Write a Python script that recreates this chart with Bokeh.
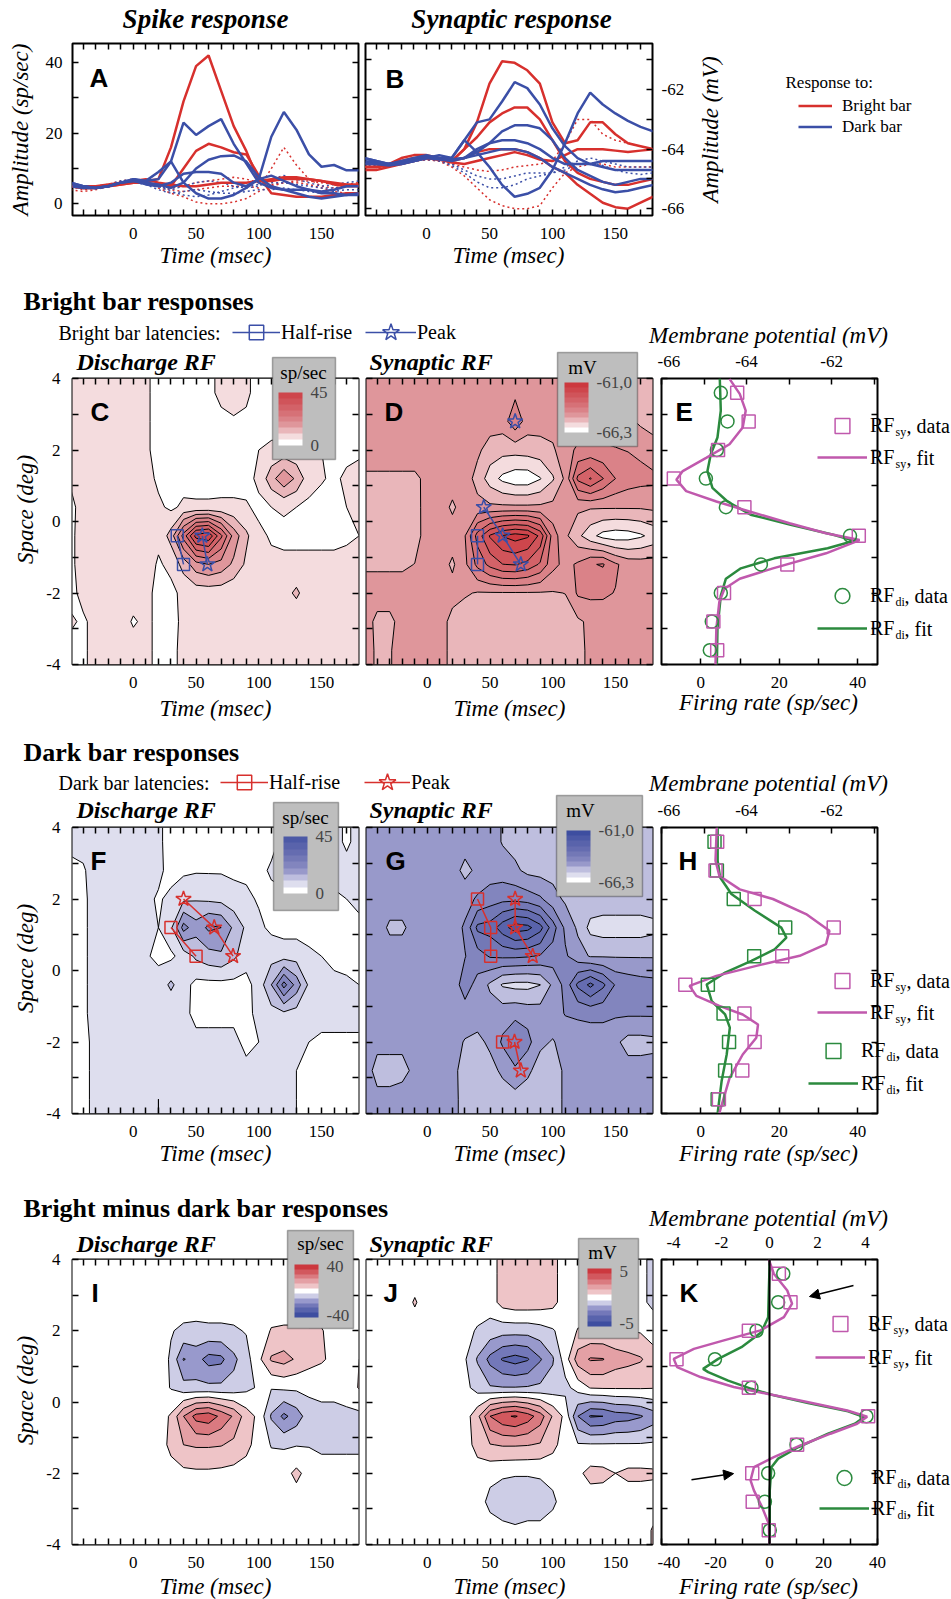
import numpy as np
from bokeh.plotting import figure
from bokeh.layouts import row, column
from bokeh.models import (Range1d, LinearAxis, FixedTicker, Label, Legend, LegendItem,
                          ColorBar, LinearColorMapper, Arrow, NormalHead, Span, Grid,
                          GridBox, BoxAnnotation)
from bokeh.embed import file_html
from bokeh.resources import INLINE

SERIF = "Liberation Serif"
SANS = "Liberation Sans"
RED = "#d7302d"
BLUE = "#3b4fa7"
MAGENTA = "#c059ad"
GREEN = "#2b8a3e"

# ------------------------------------------------------------------ data
TIME = [-50, -40, -30, -20, -10, 0, 10, 20, 30, 40, 50, 60, 70, 80, 90, 100, 110, 120, 130, 140, 150, 160, 170, 180]
SPACE = [3.6, 2.8, 2.0, 1.2, 0.4, -0.4, -1.2, -2.0, -2.8, -3.6]

# A: spike responses (sp/sec)
A_RED_SOLID_1 = [5, 4.5, 4.5, 5, 5.5, 6, 6.5, 7, 16, 29, 39, 42, 32, 22, 15, 6.5, 6.5, 7, 7, 7, 6.5, 6, 5.5, 5.5]
A_RED_SOLID_2 = [5, 4.5, 4.5, 5, 5.5, 6, 6, 5.5, 5, 10, 15, 17, 16, 14.6, 14, 8, 3, 2.5, 2, 2, 2, 2.5, 3, 3]
A_RED_SOLID_3 = [5, 5, 5, 5.5, 6, 6.5, 7, 6, 5.5, 5, 5, 5.5, 6, 6, 6, 6.5, 7, 7.5, 7.5, 7, 6.5, 5.5, 5, 5]
A_BLUE_SOLID_1 = [6, 5, 4.5, 5, 6, 7, 6.5, 7, 12, 23, 19.5, 22, 24, 17, 11.5, 6, 4.5, 4, 4, 4, 3.5, 4, 5, 5]
A_BLUE_SOLID_2 = [6, 5, 4.5, 5, 6, 6.5, 5.5, 5, 6, 8.5, 9, 9, 8.5, 6, 5, 7, 19, 26, 21, 14, 10.5, 11, 9.5, 9.5]
A_BLUE_SOLID_3 = [5, 4.5, 4.5, 5, 6, 6.5, 6, 5.5, 4.5, 6, 10, 12.5, 13.5, 13.7, 12, 7.5, 5, 4, 3, 2, 1.5, 2, 2.5, 3]
A_BLUE_SOLID_4 = [5.5, 5, 4.5, 5, 6, 7, 6.5, 9, 12, 6, 3, 1.5, 1.5, 2.5, 4.5, 7, 8, 6.5, 5, 4, 3, 3, 2.5, 2.5]
A_RED_DOT_1 = [5, 4, 4.5, 5.5, 6.5, 7, 6, 5, 4, 3.5, 4, 4.5, 5, 5, 5, 4.5, 10, 16, 11, 7, 5, 4.5, 5, 5.5]
A_RED_DOT_2 = [4, 3.5, 4, 5, 6, 6.5, 6, 4.5, 3, 2, 0.5, 0, 0, 0.5, 1.5, 3.5, 5, 6, 6, 5.5, 4.5, 3.5, 3, 3]
A_RED_DOT_3 = [5.5, 5, 4.5, 5, 6, 7, 6.5, 5.5, 4.5, 5, 6, 6.5, 7, 7.5, 7, 6, 5.5, 6, 6.5, 6.5, 6, 5.5, 5.5, 6]
A_BLUE_DOT_1 = [6, 5, 5, 5.5, 6.5, 7, 6.5, 5, 4, 5, 6, 6.5, 6, 5, 4.5, 5, 7, 8, 7, 6, 5, 5.5, 6, 6.5]
A_BLUE_DOT_2 = [5, 4.5, 4.5, 5, 5.5, 6, 5.5, 4, 3, 3.5, 4, 3.5, 3, 3, 3.5, 4, 4, 4.5, 4, 3.5, 3, 3.5, 4, 4]
A_BLUE_DOT_3 = [5.5, 5, 5, 5, 6, 6.5, 6, 5, 3.5, 2.5, 2, 2.5, 3.5, 4.5, 5, 5.5, 6, 6, 5.5, 5, 4.5, 4.5, 5, 5.5]

# B: synaptic responses (mV)
B_RED_SOLID_1 = [-64.6, -64.6, -64.5, -64.3, -64.2, -64.2, -64.3, -64.4, -64.0, -63.1, -61.8, -61.05, -61.1, -61.35, -61.8, -63.1, -63.8, -63.7, -63.1, -63.1, -63.5, -63.8, -63.9, -64.0]
B_RED_SOLID_2 = [-64.6, -64.6, -64.5, -64.4, -64.3, -64.3, -64.35, -64.4, -64.0, -63.6, -63.1, -62.8, -62.6, -62.6, -63.0, -63.7, -64.4, -64.8, -65.0, -65.1, -65.2, -65.2, -65.1, -65.0]
B_RED_SOLID_3 = [-64.7, -64.7, -64.6, -64.5, -64.4, -64.3, -64.35, -64.4, -64.3, -64.1, -64.0, -64.0, -64.0, -64.1, -64.3, -64.6, -64.8, -65.2, -65.5, -65.8, -65.95, -66.0, -65.8, -65.6]
B_RED_SOLID_4 = [-64.6, -64.6, -64.55, -64.45, -64.35, -64.3, -64.35, -64.45, -64.5, -64.4, -64.3, -64.2, -64.1, -64.2, -64.35, -64.4, -64.2, -64.0, -64.0, -64.0, -64.05, -64.1, -64.05, -64.0]
B_BLUE_SOLID_1 = [-64.3, -64.4, -64.5, -64.5, -64.4, -64.3, -64.2, -64.3, -63.7, -63.1, -63.0, -62.4, -61.75, -61.95, -62.5, -63.3, -63.9, -64.3, -64.5, -64.6, -64.7, -64.7, -64.7, -64.7]
B_BLUE_SOLID_2 = [-64.3, -64.4, -64.5, -64.4, -64.3, -64.2, -64.3, -64.3, -63.7, -64.1, -64.6, -65.2, -65.6, -65.5, -65.3, -64.7, -63.8, -62.8, -62.1, -62.5, -62.8, -63.05, -63.25, -63.4]
B_BLUE_SOLID_3 = [-64.4, -64.45, -64.5, -64.45, -64.4, -64.3, -64.3, -64.35, -64.3, -64.1, -63.8, -63.4, -63.2, -63.2, -63.3, -63.7, -64.3, -64.7, -64.9, -65.1, -65.2, -65.1, -65.0, -65.0]
B_BLUE_SOLID_4 = [-64.45, -64.5, -64.5, -64.45, -64.35, -64.25, -64.3, -64.35, -64.3, -64.0, -63.8, -63.7, -63.7, -63.8, -64.0, -64.3, -64.5, -64.5, -64.5, -64.4, -64.4, -64.4, -64.4, -64.4]
B_BLUE_SOLID_5 = [-64.5, -64.5, -64.55, -64.5, -64.4, -64.3, -64.35, -64.4, -64.3, -64.2, -64.1, -64.0, -64.0, -64.1, -64.3, -64.6, -64.8, -65.0, -65.2, -65.35, -65.45, -65.4, -65.3, -65.2]
B_RED_DOT_1 = [-64.5, -64.55, -64.6, -64.5, -64.4, -64.35, -64.4, -64.6, -64.9, -65.3, -65.7, -65.9, -66.0, -66.0, -65.9, -65.3, -64.8, -64.6, -64.5, -64.5, -64.6, -64.6, -64.6, -64.6]
B_RED_DOT_2 = [-64.6, -64.6, -64.55, -64.45, -64.4, -64.35, -64.4, -64.5, -64.6, -64.7, -64.75, -64.7, -64.6, -64.55, -64.5, -64.4, -63.8, -63.0, -63.0, -63.5, -63.7, -63.8, -63.9, -64.0]
B_BLUE_DOT_1 = [-64.5, -64.5, -64.5, -64.45, -64.35, -64.3, -64.35, -64.5, -64.7, -64.9, -65.0, -65.0, -64.9, -64.8, -64.8, -64.8, -64.6, -64.4, -64.3, -64.4, -64.5, -64.6, -64.6, -64.6]
B_BLUE_DOT_2 = [-64.55, -64.55, -64.5, -64.45, -64.4, -64.35, -64.4, -64.55, -64.8, -65.1, -65.3, -65.3, -65.2, -65.0, -64.9, -64.8, -64.7, -64.5, -64.45, -64.55, -64.7, -64.8, -64.85, -64.8]

# C: bright bar discharge RF (sp/sec), rows = SPACE, cols = TIME
C_RF = [
    [7, 7, 7, 7, 7, 7, 6, 3, 3, 3, 3, 4, 6, 7, 6, 3, 3, 3, 3, 3, 3, 3, 3, 3],
    [7, 7, 7, 7, 7, 7, 6, 3, 3, 3, 3, 3, 4, 4.5, 4, 3, 3, 3, 3, 3, 3, 3, 3, 3],
    [7, 7, 7, 7, 7, 7, 6, 3, 3, 3, 3, 3, 3, 3, 3.5, 5, 6, 6.5, 6, 5.5, 5, 3.5, 3.5, 4],
    [5.5, 7, 7, 7, 7, 7, 7, 4, 3, 3, 3, 3, 3, 3, 3.5, 6, 13, 19, 14, 7, 5.5, 4, 6, 7],
    [4, 6.5, 7, 7, 7, 7, 7, 6, 4, 6, 5.8, 5.8, 6, 6, 5.5, 4, 5, 5.5, 5, 4, 3, 3, 5, 6],
    [4, 7, 7, 7, 7, 7, 7, 6, 12, 27, 42, 44, 31, 18, 11, 6, 4.5, 4, 4, 4, 4, 4, 4.5, 5],
    [4, 7, 7, 7, 7, 7, 7, 4.5, 6, 12, 18, 20, 18, 14, 9, 6.5, 6, 6, 6, 6, 6, 6, 6, 6],
    [4, 6, 7, 7, 7, 7, 6, 4, 4, 6, 7, 7, 7, 6, 6, 6, 6, 8, 11, 7, 6, 6, 6, 6],
    [5.5, 4.5, 6, 7, 7, 4.5, 6, 4, 3.5, 6, 6, 6, 6, 6, 6, 6, 6, 6, 6, 6, 6, 6, 6, 6],
    [4, 4.5, 6, 7, 7, 7, 6, 4, 4, 6, 6, 6, 6, 6, 6, 6, 6, 6, 6, 6, 6, 6, 6, 6],
]
# D: bright bar synaptic RF (mV)
D_RF = [
    [-64.45] * 12 + [-64.3] + [-64.45] * 8 + [-64.6, -64.8, -64.9],
    [-64.45] * 12 + [-63.8] + [-64.45] * 8 + [-64.6, -64.8, -64.9],
    [-64.45, -64.45, -64.45, -64.45, -64.45, -64.45, -64.45, -64.45, -64.45, -64.6, -64.95, -65.05, -65.05, -65.0, -64.95, -64.8, -64.35, -64.1, -64.05, -64.1, -64.15, -64.2, -64.3, -64.5],
    [-64.8, -64.8, -64.8, -64.8, -64.8, -64.6, -64.45, -64.45, -64.45, -64.9, -65.5, -65.9, -66.1, -66.1, -65.8, -65.3, -64.6, -63.0, -62.55, -63.1, -63.65, -63.9, -64.0, -64.05],
    [-64.9, -64.9, -64.9, -64.9, -64.85, -64.55, -64.45, -64.8, -64.45, -64.55, -64.6, -64.6, -64.6, -64.6, -64.6, -64.55, -64.5, -64.6, -64.65, -64.65, -64.65, -64.65, -64.65, -64.6],
    [-64.9, -64.9, -64.9, -64.9, -64.9, -64.5, -64.45, -64.45, -64.2, -62.9, -62.0, -61.5, -61.3, -61.45, -62.2, -63.9, -64.6, -65.1, -65.6, -65.95, -66.05, -66.0, -65.85, -65.6],
    [-64.8, -64.8, -64.8, -64.8, -64.7, -64.45, -64.45, -64.8, -64.3, -63.5, -62.95, -62.6, -62.55, -62.75, -63.2, -64.0, -64.35, -64.1, -63.7, -63.6, -64.1, -64.4, -64.45, -64.45],
    [-64.45, -64.45, -64.45, -64.45, -64.45, -64.45, -64.45, -64.5, -64.65, -64.75, -64.75, -64.75, -64.75, -64.75, -64.75, -64.75, -64.7, -64.1, -64.05, -64.1, -64.2, -64.45, -64.45, -64.45],
    [-64.45, -64.85, -64.85, -64.5, -64.45, -64.45, -64.45, -64.9, -65.0, -65.0, -65.0, -65.0, -65.0, -65.0, -65.0, -65.0, -64.95, -64.8, -64.6, -64.45, -64.45, -64.45, -64.45, -64.45],
    [-64.45, -64.8, -64.75, -64.5, -64.45, -64.45, -64.45, -64.9, -65.0, -65.0, -65.0, -65.0, -65.0, -65.0, -65.0, -65.0, -64.95, -64.85, -64.6, -64.45, -64.45, -64.45, -64.45, -64.45],
]
# F: dark bar discharge RF (sp/sec)
F_RF = [
    [6, 6.5, 7, 7, 7, 7, 7, 6, 3, 3, 3, 3, 3, 3, 3, 3, 4, 6, 7, 7, 7, 7, 4, 7],
    [4, 4.5, 7, 7, 7, 7, 7, 6, 3.5, 4, 4.5, 4.5, 4.5, 4, 4, 4, 5.5, 6.5, 7, 7, 7, 7, 7, 7],
    [4, 4, 7, 7, 7, 7, 6, 4.5, 6, 9, 9.5, 9, 8.5, 7, 6, 4.5, 4, 4, 4, 4, 4, 4, 5, 6],
    [4, 4, 7, 7, 7, 7, 6, 5, 9, 22, 17, 21, 20, 14, 9, 6, 4, 3, 3, 3, 3, 3, 3, 4],
    [4, 4, 7, 7, 7, 7, 5.5, 4, 4, 7, 11, 13, 14, 11, 7, 5.5, 8, 8, 8, 6, 5, 4, 4, 4],
    [4, 4, 7, 7, 7, 7, 6, 7, 11, 7, 3.5, 3.5, 3.5, 3.5, 3.5, 7, 15, 27, 18, 9, 7, 6, 5.5, 5],
    [4, 4, 7, 7, 7, 7, 6, 6, 6, 6, 4, 4, 4, 4, 4, 6, 8, 9, 8, 6, 6, 6, 6, 6],
    [4, 4, 6, 7, 7, 7, 6, 6, 6, 6, 6, 6, 6, 6, 4, 5, 6, 6, 6, 5, 4.5, 4.5, 4.5, 4.5],
    [4, 4, 6, 7, 7, 7, 6, 6, 6, 6, 6, 6, 6, 6, 6, 6, 6, 6, 5, 4, 4, 4, 4, 4],
    [4, 4, 6, 7, 7, 7, 6, 5, 6, 6, 6, 6, 6, 6, 6, 6, 6, 6, 5, 4, 4, 4, 4, 4],
]
# G: dark bar synaptic RF (mV)
G_RF = [
    [-64.45] * 8 + [-64.5, -64.45, -64.45, -64.75] + [-64.9] * 12,
    [-64.45, -64.45, -64.45, -64.45, -64.45, -64.45, -64.45, -64.5, -64.85, -64.6, -64.45, -64.45, -64.6, -64.85, -64.9, -64.9, -64.9, -64.9, -64.9, -64.9, -64.9, -64.9, -64.9, -64.9],
    [-64.45, -64.45, -64.45, -64.45, -64.45, -64.45, -64.45, -64.45, -64.4, -64.1, -63.9, -63.8, -63.8, -63.9, -64.1, -64.5, -64.8, -64.9, -64.9, -64.9, -64.9, -64.9, -64.9, -64.9],
    [-64.45, -64.45, -64.8, -64.8, -64.5, -64.45, -64.45, -64.45, -64.1, -63.0, -62.9, -62.3, -61.8, -61.9, -62.4, -63.4, -64.3, -64.8, -65.4, -65.5, -65.5, -65.5, -65.5, -65.4],
    [-64.45, -64.45, -64.45, -64.45, -64.45, -64.45, -64.45, -64.45, -64.2, -63.9, -63.6, -63.55, -63.55, -63.6, -63.7, -63.9, -64.1, -64.5, -64.75, -64.75, -64.75, -64.75, -64.75, -64.75],
    [-64.45, -64.45, -64.45, -64.45, -64.45, -64.45, -64.45, -64.45, -63.95, -64.35, -64.8, -65.3, -65.4, -65.4, -65.25, -64.6, -64.0, -63.0, -62.45, -63.0, -63.7, -63.85, -63.95, -64.0],
    [-64.45, -64.45, -64.45, -64.45, -64.45, -64.45, -64.45, -64.45, -64.4, -64.45, -64.45, -64.4, -64.3, -64.4, -64.45, -64.4, -64.15, -64.1, -64.05, -64.05, -64.1, -64.1, -64.1, -64.1],
    [-64.5, -64.6, -64.6, -64.6, -64.5, -64.45, -64.45, -64.5, -64.75, -64.85, -64.6, -64.1, -63.8, -64.0, -64.6, -64.75, -64.5, -64.45, -64.45, -64.45, -64.6, -64.9, -64.9, -64.85],
    [-64.5, -64.85, -64.85, -64.85, -64.6, -64.45, -64.45, -64.5, -65.0, -65.0, -64.9, -64.6, -64.25, -64.6, -64.95, -65.0, -64.6, -64.45, -64.45, -64.45, -64.45, -64.5, -64.5, -64.5],
    [-64.45, -64.6, -64.6, -64.5, -64.45, -64.45, -64.45, -64.5, -64.95, -65.0, -65.0, -65.0, -64.95, -65.0, -65.0, -65.0, -64.6, -64.45, -64.45, -64.45, -64.45, -64.45, -64.45, -64.45],
]
# I: bright minus dark discharge RF (sp/sec)
I_RF = [
    [0] * 24,
    [0] * 24,
    [0, 0, 0, 0, 0, 0, 0, 0, -3.5, -5.5, -6, -5.5, -5.5, -5, -3.5, 0, 4.5, 5, 5, 4.5, 4.5, 1, 0, 0],
    [0, 0, 0, 0, 0, 0, 0, 0, -5, -20.5, -17, -23, -22, -14, -7, 2, 13, 15, 11, 7, 5, 2, 3, 4],
    [0, 0, 0, 0, 0, 0, 0, 0, -4.5, -9, -10, -10, -10, -9, -6, -3, -3.5, -2.5, -2.5, -2, -2, -2, 0, 4.5],
    [0, 0, 0, 0, 0, 0, 0, 0, 5, 20, 31, 33, 26, 19, 8, 2, -13, -22, -16, -8, -6, -6, -6, -6],
    [0, 0, 0, 0, 0, 0, 0, 0, 6, 12, 13, 13, 12.5, 10, 6, 1, -4.5, -5, -4.5, -4.5, -6, -6, -6, -6],
    [0, 0, 0, 0, 0, 0, 0, 0, 1, 2, 2.5, 2.5, 2, 1.5, 1, 0, 0, 1, 6, 1, 0, 0, 0, 0],
    [0] * 24,
    [0] * 24,
]
# J: bright minus dark synaptic RF (mV)
J_RF = [
    [0, 0, 0, 0, 0, 0, 0, 0, 0, 0, 0, 0.9, 1.1, 1.1, 1.0, 0.8, 0, 0, 0, 0, 0, 0, -0.3, -0.7],
    [0, 0, 0, 0, 0.6, 0, 0, 0, 0, 0, 0, 0.9, 1.1, 1.1, 1.0, 0.8, 0, 0, 0, 0, 0, 0, -0.3, -0.7],
    [0, 0, 0, 0, 0, 0, 0, 0, -0.2, -0.6, -0.9, -1.1, -1.1, -1.1, -0.9, -0.6, 0, 0.55, 0.6, 0.6, 0.6, 0.55, 0.4, 0],
    [0, 0, 0, 0, 0, 0, 0, 0, -0.4, -1.6, -2.8, -3.6, -3.9, -3.6, -2.6, -1.6, 0, 2.0, 2.6, 2.55, 2.0, 1.8, 1.6, 1.0],
    [0, 0, 0, 0, 0, 0, 0, 0, -0.2, -0.9, -1.4, -1.45, -1.45, -1.4, -1.3, -1.1, -0.8, -0.1, 0.55, 0.6, 0.6, 0.6, 0.6, 0.55],
    [0, 0, 0, 0, 0, 0, 0, 0, 0, 1.2, 3.5, 4.3, 4.6, 4.0, 3.0, 1.4, 0.2, -2.5, -3.6, -3.5, -3.0, -2.9, -2.6, -2.0],
    [0, 0, 0, 0, 0, 0, 0, 0, 0, 0.9, 1.45, 1.6, 1.6, 1.55, 1.4, 0.8, 0, -0.4, -0.4, -0.4, -0.4, -0.4, -0.4, -0.35],
    [0, 0, 0, 0, 0, 0, 0, 0, 0, 0, -0.2, -0.4, -0.45, -0.45, -0.4, -0.2, 0, 0.3, 0.8, 0.75, 0.5, 0.7, 0.7, 0.65],
    [0, 0, 0, 0, 0, 0, 0, 0, 0, 0, -0.8, -0.9, -0.9, -0.9, -0.9, -0.7, 0, 0, 0, 0, 0, 0, 0, 0],
    [0, 0, 0, 0, 0, 0, 0, 0, 0, 0, 0, -0.3, -0.4, -0.3, -0.3, 0, 0, 0, 0, 0, 0, 0, 0, 0.6],
]

# latency markers (msec, deg)
C_HALF_T, C_HALF_Y = [35, 40], [-0.4, -1.2]
C_PEAK_T, C_PEAK_Y = [55, 59], [-0.4, -1.2]
D_HALF_T, D_HALF_Y = [40, 40], [-0.4, -1.2]
D_PEAK_T, D_PEAK_Y = [45, 60, 74.5], [0.4, -0.4, -1.2]
D_PEAK2_T, D_PEAK2_Y = [70], [2.8]
F_HALF_T, F_HALF_Y = [30, 50], [1.2, 0.4]
F_PEAK_T, F_PEAK_Y = [40, 64.5, 79.5], [2.0, 1.2, 0.4]
G_HALF_T, G_HALF_Y = [40, 50.5, 50.5], [2.0, 1.2, 0.4]
G_HALF2_T, G_HALF2_Y = [60], [-2.0]
G_PEAK_T, G_PEAK_Y = [70, 70, 84], [2.0, 1.2, 0.4]
G_PEAK2_T, G_PEAK2_Y = [69.5, 74.5], [-2.0, -2.8]

# E / H / K profiles
E_SY_DATA = [-64.22, -63.95, -64.67, -65.71, -64.05, -61.36, -63.04, -64.53, -64.78, -64.69]
E_DI_DATA = [5.1, 6.8, 4.1, 1.3, 6.4, 38.0, 15.3, 5.1, 2.8, 2.3]
E_FIT_SY_Y = [3.99, 3.57, 3.10, 2.63, 2.16, 1.78, 1.41, 1.17, 0.85, 0.56, 0.28, -0.05, -0.33, -0.52, -0.89, -1.31, -1.60, -1.88, -2.25, -3.0, -4.0]
E_FIT_SY_X = [-64.40, -64.16, -64.02, -64.09, -64.40, -64.95, -65.50, -65.65, -65.42, -64.71, -63.93, -62.99, -62.13, -61.34, -62.13, -63.38, -64.16, -64.52, -64.64, -64.71, -64.73]
E_FIT_DI_Y = [4.0, 3.10, 2.35, 1.88, 1.41, 0.94, 0.56, 0.19, -0.09, -0.38, -0.54, -0.75, -1.03, -1.31, -1.60, -2.07, -3.0, -4.0]
E_FIT_DI_X = [4.84, 5.1, 4.25, 2.55, 1.7, 2.97, 6.8, 12.7, 22.9, 34.0, 39.1, 32.3, 18.7, 10.2, 6.4, 5.1, 4.25, 4.1]

H_SY_DATA = [-64.69, -64.73, -63.81, -61.95, -63.16, -65.44, -64.05, -63.81, -64.10, -64.65]
H_DI_DATA = [3.5, 4.1, 8.4, 21.5, 13.6, 1.8, 5.8, 7.2, 6.2, 4.3]
H_FIT_SY_Y = [4.0, 3.07, 2.65, 2.27, 2.00, 1.58, 1.11, 0.74, 0.41, 0.13, -0.15, -0.43, -0.71, -0.99, -1.23, -1.51, -1.88, -2.35, -3.01, -3.99]
H_FIT_SY_X = [-64.70, -64.73, -64.64, -64.16, -63.38, -62.60, -62.05, -62.13, -62.75, -63.77, -64.71, -65.34, -65.18, -64.64, -64.09, -63.73, -63.77, -64.09, -64.40, -64.64]
H_FIT_DI_Y = [4.0, 3.07, 2.61, 2.14, 1.67, 1.20, 0.92, 0.59, 0.27, -0.06, -0.39, -0.86, -1.23, -1.60, -2.35, -3.10, -3.99]
H_FIT_DI_X = [4.3, 4.3, 4.9, 7.8, 13.8, 20.5, 21.8, 18.8, 12.9, 6.2, 1.5, 2.8, 6.2, 7.4, 6.6, 5.3, 4.3]

K_SY_DATA = [0.39, 0.875, -0.86, -3.875, -0.86, 4.11, 1.15, -0.72, -0.70, -0.03]
K_DI_DATA = [5.1, 3.2, -4.8, -20.2, -6.7, 35.9, 10.0, -0.5, -1.7, 0.1]
K_FIT_SY_Y = [4.0, 3.60, 3.13, 2.76, 2.38, 2.01, 1.73, 1.49, 1.21, 0.98, 0.70, 0.42, 0.23, 0.0, -0.24, -0.41, -0.61, -0.89, -1.22, -1.55, -1.83, -2.20, -2.48, -2.95, -3.42, -4.0]
K_FIT_SY_X = [-0.03, 0.18, 0.74, 0.94, 0.60, -0.375, -1.90, -3.15, -3.99, -3.85, -2.875, -1.49, -0.10, 1.57, 3.24, 4.07, 3.65, 2.54, 1.29, 0.18, -0.65, -0.79, -0.65, -0.31, -0.03, 0.0]
K_FIT_DI_Y = [4.0, 3.13, 2.38, 1.96, 1.54, 1.21, 0.93, 0.84, 0.60, 0.37, 0.18, -0.03, -0.26, -0.42, -0.61, -0.89, -1.27, -1.59, -1.83, -2.48, -4.0]
K_FIT_DI_X = [0.1, -0.25, -0.5, -3.0, -10.4, -19.0, -24.6, -22.7, -15.3, -6.7, 2.0, 14.3, 29.1, 35.1, 31.6, 21.7, 10.6, 3.2, 0.7, 0.1, 0.1]
K_ARROW_X0, K_ARROW_Y0 = [31.1, -28.9], [3.27, -2.18]
K_ARROW_X1, K_ARROW_Y1 = [14.8, -13.3], [2.96, -2.01]

# colour scales
REDS = ["#ffffff", "#f4dcde", "#e9b6ba", "#df969b", "#da8288", "#d67177", "#d36268", "#d0545a", "#ce464c", "#cc383e"]
BLUES = ["#ffffff", "#dedeee", "#bebede", "#9899ca", "#8285be", "#7378b6", "#656cb0", "#5963ab", "#4c59a6", "#3e4ea0"]
DIVERGING = ["#3e4ea0", "#5863ac", "#7378b9", "#9899cc", "#cdcde6", "#ffffff", "#eec4c7", "#e4a0a5", "#da7a80", "#d2585e", "#cc383e"]
SP_LEVELS = [0, 5, 10, 15, 20, 25, 30, 35, 40, 45, 100]
MV_LEVELS = [-70, -65.77, -65.24, -64.71, -64.18, -63.65, -63.12, -62.59, -62.06, -61.53, -50]
I_LEVELS = [-100, -36, -28, -20, -12, -4, 4, 12, 20, 28, 36, 100]
J_LEVELS = [-10, -4.5, -3.5, -2.5, -1.5, -0.5, 0.5, 1.5, 2.5, 3.5, 4.5, 10]

T_RANGE = (-48.5, 179.5)
T_MAJ = [0, 50, 100, 150]
T_MIN = [-40, -30, -20, -10, 10, 20, 30, 40, 60, 70, 80, 90, 110, 120, 130, 140, 160, 170]
S_MAJ = [-4, -2, 0, 2, 4]
S_MIN = [-3, -1, 1, 3]

PAGE_W, PAGE_H = 951, 1599


# ------------------------------------------------------------------ helpers
def new_fig(canvas, box, xr, yr):
    cl, ct, cr, cb = canvas
    fl, ft, fr, fb = box
    p = figure(frame_width=fr - fl, frame_height=fb - ft,
               x_range=Range1d(*xr), y_range=Range1d(*yr),
               x_axis_location=None, y_axis_location=None,
               output_backend="svg", toolbar_location=None,
               min_border_left=fl - cl, min_border_right=cr - fr,
               min_border_top=ft - ct, min_border_bottom=cb - fb)
    p.center = [c for c in p.center if not isinstance(c, Grid)]
    p.outline_line_color = "black"
    p.outline_line_width = 2
    p.background_fill_color = "white"
    p.border_fill_color = "white"
    return p


def hyphen(ticks):
    return {t: str(t) for t in ticks if t < 0}


def add_axis(p, side, ticks, minor, labels=True, range_name=None, standoff=12):
    kw = {}
    if range_name:
        kw["x_range_name" if side in ("above", "below") else "y_range_name"] = range_name
    ax = LinearAxis(**kw)
    ax.ticker = FixedTicker(ticks=ticks, minor_ticks=minor)
    ax.major_tick_in = 6
    ax.major_tick_out = 0
    ax.minor_tick_in = 6
    ax.minor_tick_out = 0
    ax.major_tick_line_width = 1.5
    ax.minor_tick_line_width = 1.5
    ax.major_tick_line_color = "black"
    ax.minor_tick_line_color = "black"
    ax.axis_line_color = None
    ax.major_label_text_font = SERIF
    if labels:
        ax.major_label_text_color = "black"
        ax.major_label_text_font_size = "17px"
        ax.major_label_standoff = standoff
        ax.major_label_overrides = hyphen(ticks)
    else:
        ax.major_label_text_color = None
        ax.major_label_text_font_size = "1px"
        ax.major_label_standoff = 0
    p.add_layout(ax, side)
    return ax


def add_contour(p, rows, levels, colors):
    z = np.array(rows, dtype=float)[::-1]
    z = np.vstack([z[:1], z, z[-1:]])
    ys = np.concatenate([[-4.0], np.array(SPACE[::-1], dtype=float), [4.0]])
    p.contour(x=np.array(TIME, dtype=float), y=ys, z=z, levels=levels,
              fill_color=colors, line_color="black", line_width=1)


def latency(p, t, y, color, marker):
    if len(t) > 1:
        p.line(t, y, line_color=color, line_width=1.5)
    p.scatter(t, y, marker=marker, size=12 if marker == "square" else 16,
              fill_color=None, line_color=color, line_width=1.5)


def rf_axes(p, left_labels):
    add_axis(p, "below", T_MAJ, T_MIN, labels=True)
    add_axis(p, "above", T_MAJ, T_MIN, labels=False)
    add_axis(p, "left", S_MAJ, S_MIN, labels=left_labels)
    add_axis(p, "right", S_MAJ, S_MIN, labels=False)


# ------------------------------------------------------------------ overlay (all free text / keys)
ov = figure(frame_width=PAGE_W, frame_height=PAGE_H, x_range=Range1d(0, PAGE_W), y_range=Range1d(0, PAGE_H),
            x_axis_location=None, y_axis_location=None, output_backend="svg", toolbar_location=None,
            min_border_left=0, min_border_right=0, min_border_top=0, min_border_bottom=0)
ov.center = [c for c in ov.center if not isinstance(c, Grid)]
ov.outline_line_color = None
ov.background_fill_alpha = 0
ov.border_fill_alpha = 0


def txt(px, py, s, size, style="normal", font=SERIF, align="left", angle=0.0):
    # (px, py): left/centre x and vertical middle of the text, page pixels
    ov.add_layout(Label(x=px, y=PAGE_H - py, text=s, text_font=font, text_font_size=f"{size}px",
                        text_font_style=style, text_align=align, text_baseline="middle",
                        angle=angle, text_color="black"))


def key_line(color, width):
    # legend-key carrier, kept off the canvas
    return ov.line([-30, -20], [-30, -30], line_color=color, line_width=width)


def key_marker(marker, color, size):
    return ov.scatter([-30], [-30], marker=marker, size=size, fill_color=None, line_color=color, line_width=1.5)


def ov_key(label, renderers, left, cy, glyph_w, item_h, font_size, standoff):
    # one legend entry centred vertically on cy (page pixels)
    ov.add_layout(Legend(items=[LegendItem(label=label, renderers=renderers)],
                         location=(left, PAGE_H - (cy + item_h / 2)),
                         orientation="vertical", glyph_width=glyph_w, glyph_height=item_h,
                         label_height=item_h, label_width=10, label_standoff=standoff, spacing=0,
                         padding=0, margin=0, border_line_color=None, background_fill_alpha=0,
                         label_text_font=SERIF, label_text_font_size=f"{font_size}px",
                         label_text_color="black"))


def colorbox(box, title, title_xy, palette, low, high, ticks, overrides, bar):
    l, t, r, b = box
    ov.add_layout(BoxAnnotation(left=l, right=r, top=PAGE_H - t, bottom=PAGE_H - b,
                                fill_color="#bebebe", fill_alpha=1.0, line_color="black", line_width=1.5))
    txt(title_xy[0], title_xy[1], title, 19, align="center")
    bl, bt, br, bb = bar
    ov.add_layout(ColorBar(color_mapper=LinearColorMapper(palette=palette, low=low, high=high),
                           ticker=FixedTicker(ticks=ticks), major_label_overrides=overrides,
                           width=br - bl, height=bb - bt, padding=0, margin=0,
                           location=(bl, PAGE_H - bb), label_standoff=8,
                           major_label_text_font=SERIF, major_label_text_font_size="17px",
                           major_tick_line_color=None, minor_tick_line_color=None,
                           bar_line_color=None, border_line_color=None, background_fill_alpha=0))


def rf_keys(px, py, sub, rest):
    txt(px + 25, py + 6, sub, 12)
    txt(px + 25 + (11 if sub == "sy" else 9), py, rest, 20)


# ------------------------------------------------------------------ row 1 : A, B
pA = new_fig((0, 0, 362, 278), (72, 43, 358, 215), T_RANGE, (-3.3, 45.4))
add_axis(pA, "below", T_MAJ, T_MIN)
add_axis(pA, "above", T_MAJ, T_MIN, labels=False)
add_axis(pA, "left", [0, 20, 40], [10, 30], standoff=10)
add_axis(pA, "right", [0, 20, 40], [10, 30], labels=False)
for tr in (A_RED_DOT_1, A_RED_DOT_2, A_RED_DOT_3):
    pA.line(TIME, tr, line_color=RED, line_width=1.5, line_dash="2 3")
for tr in (A_BLUE_DOT_1, A_BLUE_DOT_2, A_BLUE_DOT_3):
    pA.line(TIME, tr, line_color=BLUE, line_width=1.5, line_dash="2 3")
for tr in (A_RED_SOLID_1, A_RED_SOLID_2, A_RED_SOLID_3):
    pA.line(TIME, tr, line_color=RED, line_width=2.5)
for tr in (A_BLUE_SOLID_1, A_BLUE_SOLID_2, A_BLUE_SOLID_3, A_BLUE_SOLID_4):
    pA.line(TIME, tr, line_color=BLUE, line_width=2.5)

pB = new_fig((362, 0, 951, 278), (365, 43, 652, 215), T_RANGE, (-66.23, -60.45))
add_axis(pB, "below", T_MAJ, T_MIN)
add_axis(pB, "above", T_MAJ, T_MIN, labels=False)
add_axis(pB, "left", [-66, -64, -62], [-65, -63, -61], labels=False)
add_axis(pB, "right", [-66, -64, -62], [-65, -63, -61], standoff=9)
for tr in (B_RED_DOT_1, B_RED_DOT_2):
    pB.line(TIME, tr, line_color=RED, line_width=1.5, line_dash="2 3")
for tr in (B_BLUE_DOT_1, B_BLUE_DOT_2):
    pB.line(TIME, tr, line_color=BLUE, line_width=1.5, line_dash="2 3")
for tr in (B_RED_SOLID_1, B_RED_SOLID_2, B_RED_SOLID_3, B_RED_SOLID_4):
    pB.line(TIME, tr, line_color=RED, line_width=2.5)
for tr in (B_BLUE_SOLID_1, B_BLUE_SOLID_2, B_BLUE_SOLID_3, B_BLUE_SOLID_4, B_BLUE_SOLID_5):
    pB.line(TIME, tr, line_color=BLUE, line_width=2.5)

txt(205, 18, "Spike response", 27, style="bold italic", align="center")
txt(511, 18, "Synaptic response", 27, style="bold italic", align="center")
txt(89, 77, "A", 26, style="bold", font=SANS)
txt(385, 78, "B", 26, style="bold", font=SANS)
txt(20, 129, "Amplitude (sp/sec)", 23, style="italic", align="center", angle=np.pi / 2)
txt(215, 255, "Time (msec)", 23, style="italic", align="center")
txt(508, 255, "Time (msec)", 23, style="italic", align="center")
txt(710, 129, "Amplitude (mV)", 23, style="italic", align="center", angle=np.pi / 2)
txt(785, 82, "Response to:", 17)
ov_key("Bright bar", [key_line(RED, 2.5)], 798, 106, 34, 19, 17, 10)
ov_key("Dark bar", [key_line(BLUE, 2.5)], 798, 127, 34, 19, 17, 10)


# ------------------------------------------------------------------ RF rows
def rf_row(ct, cb, ft, fb, rows_l, rows_r, levels_l, levels_r, cols_l, cols_r, lat_l, lat_r):
    pl = new_fig((0, ct, 362, cb), (72, ft, 358, fb), T_RANGE, (-4, 4))
    pr = new_fig((362, ct, 657, cb), (366, ft, 652, fb), T_RANGE, (-4, 4))
    rf_axes(pl, True)
    rf_axes(pr, False)
    add_contour(pl, rows_l, levels_l, cols_l)
    add_contour(pr, rows_r, levels_r, cols_r)
    for (t, y, c, m) in lat_l:
        latency(pl, t, y, c, m)
    for (t, y, c, m) in lat_r:
        latency(pr, t, y, c, m)
    return pl, pr


def profile(ct, cb, ft, fb, xr, mvr, xt, xtmin, mvt, mvtmin,
            sy_data, di_data, fsy_x, fsy_y, fdi_x, fdi_y, di_marker):
    p = new_fig((657, ct, 951, cb), (661, ft, 877, fb), xr, (-4, 4))
    p.extra_x_ranges = {"mv": Range1d(*mvr)}
    add_axis(p, "below", xt, xtmin)
    add_axis(p, "above", mvt, mvtmin, range_name="mv", standoff=12)
    add_axis(p, "left", S_MAJ, S_MIN, labels=False)
    add_axis(p, "right", S_MAJ, S_MIN, labels=False)
    p.line(fdi_x, fdi_y, line_color=GREEN, line_width=2.5)
    p.line(fsy_x, fsy_y, line_color=MAGENTA, line_width=2.5, x_range_name="mv")
    p.scatter(di_data, SPACE, marker=di_marker, size=13, fill_color=None, line_color=GREEN, line_width=1.5)
    p.scatter(sy_data, SPACE, marker="square", size=13, fill_color=None, line_color=MAGENTA,
              line_width=1.5, x_range_name="mv")
    return p


def profile_keys(di_marker, top_group, bottom_group):
    (l1, t1, d1), (l2, t2, d2) = top_group, bottom_group
    ov_key("RF", [key_marker("square", MAGENTA, 13)], l1, t1, 50, 37, 20, 3)
    ov_key("RF", [key_line(MAGENTA, 2.5)], l1, t1 + d1, 50, 28, 20, 3)
    ov_key("RF", [key_marker(di_marker, GREEN, 13)], l2, t2, 50, 37, 20, 3)
    ov_key("RF", [key_line(GREEN, 2.5)], l2, t2 + d2, 50, 28, 20, 3)
    rf_keys(l1 + 53, t1, "sy", ", data")
    rf_keys(l1 + 53, t1 + d1, "sy", ", fit")
    rf_keys(l2 + 53, t2, "di", ", data")
    rf_keys(l2 + 53, t2 + d2, "di", ", fit")


def latency_keys(label, cy, color, half, peak):
    txt(58, cy, label, 20)
    ov_key("Half-rise", [key_line(color, 1.5), key_marker("square", color, 12)],
           half[0], cy, half[1] - half[0], 36, 20, 1)
    ov_key("Peak", [key_line(color, 1.5), key_marker("star", color, 16)],
           peak[0], cy, peak[1] - peak[0], 44, 20, 1)


def row_texts(section, sec_y, sub_y, letters, letter_y, space_y, time_y, mp_y, fr_y):
    txt(23, sec_y, section, 26, style="bold")
    txt(76, sub_y, "Discharge RF", 24, style="bold italic")
    txt(369, sub_y, "Synaptic RF", 24, style="bold italic")
    for (s, x) in letters:
        txt(x, letter_y, s, 26, style="bold", font=SANS)
    txt(25, space_y, "Space (deg)", 23, style="italic", align="center", angle=np.pi / 2)
    txt(215, time_y, "Time (msec)", 23, style="italic", align="center")
    txt(509, time_y, "Time (msec)", 23, style="italic", align="center")
    txt(768, mp_y, "Membrane potential (mV)", 23, style="italic", align="center")
    txt(768, fr_y, "Firing rate (sp/sec)", 23, style="italic", align="center")


MV_OV = {-66.3: "-66,3", -61.0: "-61,0"}

# row 2 : bright bar
pC, pD = rf_row(278, 728, 378, 664, C_RF, D_RF, SP_LEVELS, MV_LEVELS, REDS, REDS,
                [(C_HALF_T, C_HALF_Y, BLUE, "square"), (C_PEAK_T, C_PEAK_Y, BLUE, "star")],
                [(D_HALF_T, D_HALF_Y, BLUE, "square"), (D_PEAK_T, D_PEAK_Y, BLUE, "star"),
                 (D_PEAK2_T, D_PEAK2_Y, BLUE, "star")])
pE = profile(278, 728, 378, 664, (-10, 45), (-66, -60.92), [0, 20, 40], [10, 30],
             [-66, -64, -62], [-65, -63, -61],
             E_SY_DATA, E_DI_DATA, E_FIT_SY_X, E_FIT_SY_Y, E_FIT_DI_X, E_FIT_DI_Y, "circle")
row_texts("Bright bar responses", 301, 361, [("C", 90), ("D", 384), ("E", 675)], 411, 509, 708, 335, 702)
latency_keys("Bright bar latencies:", 332, BLUE, (232, 280), (365, 416))
colorbox((272, 357, 335, 459), "sp/sec", (303, 372), REDS[:9], 0, 45, [0, 45], {}, (278, 392, 302, 445))
colorbox((557, 352, 637, 446), "mV", (582, 367), REDS, -66.3, -61.0, [-66.3, -61.0], MV_OV, (564, 382, 588, 432))
profile_keys("circle", (817, 425, 32), (817, 595, 33))

# row 3 : dark bar
pF, pG = rf_row(728, 1176, 827, 1113, F_RF, G_RF, SP_LEVELS, MV_LEVELS, BLUES, BLUES,
                [(F_HALF_T, F_HALF_Y, RED, "square"), (F_PEAK_T, F_PEAK_Y, RED, "star")],
                [(G_HALF_T, G_HALF_Y, RED, "square"), (G_HALF2_T, G_HALF2_Y, RED, "square"),
                 (G_PEAK_T, G_PEAK_Y, RED, "star"), (G_PEAK2_T, G_PEAK2_Y, RED, "star")])
pH = profile(728, 1176, 827, 1113, (-10, 45), (-66, -60.92), [0, 20, 40], [10, 30],
             [-66, -64, -62], [-65, -63, -61],
             H_SY_DATA, H_DI_DATA, H_FIT_SY_X, H_FIT_SY_Y, H_FIT_DI_X, H_FIT_DI_Y, "square")
row_texts("Dark bar responses", 752, 809, [("F", 90), ("G", 385), ("H", 678)], 860, 958, 1153, 783, 1153)
latency_keys("Dark bar latencies:", 782, RED, (220, 268), (364, 410))
colorbox((273, 802, 338, 910), "sp/sec", (305, 817), BLUES[:9], 0, 45, [0, 45], {}, (283, 836, 307, 893))
colorbox((556, 795, 642, 896), "mV", (580, 810), BLUES, -66.3, -61.0, [-66.3, -61.0], MV_OV, (566, 830, 590, 882))
profile_keys("square", (817, 980, 32), (808, 1050, 33))

# row 4 : bright minus dark
pI, pJ = rf_row(1176, 1599, 1259, 1544, I_RF, J_RF, I_LEVELS, J_LEVELS, DIVERGING, DIVERGING, [], [])
pK = profile(1176, 1599, 1259, 1544, (-40, 40), (-4.5, 4.5), [-40, -20, 0, 20, 40], [-30, -10, 10, 30],
             [-4, -2, 0, 2, 4], [-3, -1, 1, 3],
             K_SY_DATA, K_DI_DATA, K_FIT_SY_X, K_FIT_SY_Y, K_FIT_DI_X, K_FIT_DI_Y, "circle")
pK.add_layout(Span(location=0, dimension="height", line_color="black", line_width=2))
for i in range(2):
    pK.add_layout(Arrow(end=NormalHead(size=10, fill_color="black", line_color="black"),
                        x_start=K_ARROW_X0[i], y_start=K_ARROW_Y0[i],
                        x_end=K_ARROW_X1[i], y_end=K_ARROW_Y1[i],
                        line_color="black", line_width=1.5))
row_texts("Bright minus dark bar responses", 1208, 1243, [("I", 91), ("J", 383), ("K", 679)], 1292, 1390, 1586, 1218, 1586)
colorbox((287, 1230, 353, 1328), "sp/sec", (320, 1243), DIVERGING, -44, 44, [-40, 40], {-40: "-40"}, (294, 1264, 318, 1317))
colorbox((578, 1238, 638, 1338), "mV", (602, 1252), DIVERGING, -5.5, 5.5, [-5, 5], {-5: "-5"}, (587, 1268, 611, 1326))
profile_keys("circle", (815, 1323, 34), (819, 1477, 31))

main = column(row(pA, pB), row(pC, pD, pE), row(pF, pG, pH), row(pI, pJ, pK))
layout = GridBox(children=[(main, 0, 0), (ov, 0, 0)])
open("out.html", "w").write(file_html(layout, INLINE))
